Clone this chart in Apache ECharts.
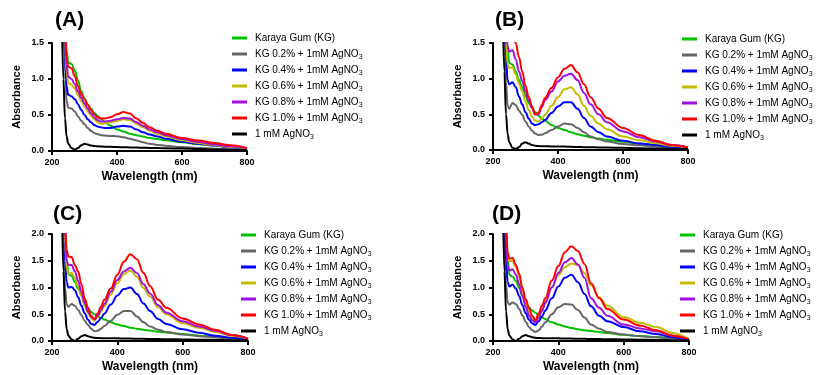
<!DOCTYPE html>
<html>
<head>
<meta charset="utf-8">
<script src="https://cdn.jsdelivr.net/npm/echarts@6/dist/echarts.min.js"></script>
<style>
    html, body { margin: 0; padding: 0; background: #fff; }
    #chart { width: 819px; height: 375px; }
</style>
</head>
<body>
<div id="chart"></div>
<script>
// wavelengths (nm) shared by every spectrum
var wavelengths = [230, 235, 240, 245, 250, 260, 270, 280, 290, 300, 310, 320, 330, 340, 350, 360, 380, 400, 420, 440, 460, 480, 500, 525, 550, 600, 650, 700, 750, 800];

var seriesNames = ['Karaya Gum (KG)', 'KG 0.2% + 1mM AgNO3', 'KG 0.4% + 1mM AgNO3', 'KG 0.6% + 1mM AgNO3', 'KG 0.8% + 1mM AgNO3', 'KG 1.0% + 1mM AgNO3', '1 mM AgNO3'];
var panelLabels = ['(A)', '(B)', '(C)', '(D)'];
var xTicks = [200, 400, 600, 800];
var yTicksAB = [0, 0.5, 1.0, 1.5];
var yTicksCD = [0, 0.5, 1.0, 1.5, 2.0];

// panel A
var aGreen = [4, 2.6, 1.8, 1.4, 1.23, 1.21, 1.12, 0.98, 0.83, 0.73, 0.65, 0.59, 0.53, 0.49, 0.45, 0.41, 0.35, 0.3, 0.27, 0.24, 0.22, 0.2, 0.18, 0.165, 0.15, 0.12, 0.095, 0.075, 0.055, 0.035];
var aGray = [3.5, 1.9, 1.1, 0.7, 0.6, 0.59, 0.55, 0.48, 0.42, 0.37, 0.32, 0.28, 0.25, 0.235, 0.22, 0.215, 0.21, 0.205, 0.19, 0.17, 0.145, 0.12, 0.1, 0.085, 0.072, 0.055, 0.042, 0.032, 0.022, 0.012];
var aBlue = [4, 2.1, 1.3, 0.9, 0.78, 0.76, 0.72, 0.65, 0.57, 0.5, 0.44, 0.4, 0.36, 0.34, 0.33, 0.32, 0.32, 0.34, 0.35, 0.34, 0.3, 0.26, 0.23, 0.2, 0.17, 0.13, 0.1, 0.075, 0.05, 0.03];
var aYellow = [4, 2.3, 1.5, 1.1, 0.94, 0.92, 0.87, 0.78, 0.69, 0.62, 0.55, 0.49, 0.44, 0.4, 0.38, 0.38, 0.4, 0.42, 0.44, 0.43, 0.38, 0.33, 0.28, 0.24, 0.2, 0.15, 0.11, 0.08, 0.055, 0.035];
var aPurple = [4, 2.4, 1.6, 1.2, 1.03, 1.0, 0.93, 0.83, 0.74, 0.66, 0.59, 0.52, 0.47, 0.43, 0.41, 0.41, 0.42, 0.44, 0.46, 0.45, 0.4, 0.35, 0.3, 0.26, 0.22, 0.165, 0.125, 0.09, 0.065, 0.04];
var aRed = [4, 2.5, 1.7, 1.3, 1.17, 1.15, 1.04, 0.9, 0.79, 0.72, 0.64, 0.57, 0.51, 0.47, 0.45, 0.45, 0.47, 0.51, 0.54, 0.52, 0.45, 0.39, 0.33, 0.28, 0.24, 0.18, 0.145, 0.11, 0.08, 0.04];
var aBlack = [1.9, 1.0, 0.45, 0.2, 0.1, 0.04, 0.02, 0.04, 0.08, 0.1, 0.09, 0.075, 0.07, 0.065, 0.062, 0.06, 0.058, 0.055, 0.052, 0.05, 0.048, 0.045, 0.043, 0.04, 0.038, 0.033, 0.028, 0.022, 0.017, 0.012];

// panel B
var bGreen = [4, 2.6, 1.8, 1.4, 1.22, 1.2, 1.1, 0.98, 0.88, 0.76, 0.66, 0.59, 0.53, 0.48, 0.44, 0.41, 0.35, 0.31, 0.28, 0.25, 0.22, 0.2, 0.18, 0.16, 0.145, 0.115, 0.09, 0.07, 0.05, 0.03];
var bGray = [3.5, 1.8, 0.95, 0.62, 0.58, 0.66, 0.63, 0.55, 0.49, 0.4, 0.33, 0.27, 0.23, 0.21, 0.215, 0.235, 0.28, 0.33, 0.37, 0.36, 0.31, 0.25, 0.19, 0.15, 0.12, 0.085, 0.065, 0.05, 0.035, 0.02];
var bBlue = [4, 2.2, 1.3, 0.98, 0.92, 0.95, 0.88, 0.75, 0.64, 0.53, 0.44, 0.37, 0.35, 0.36, 0.39, 0.42, 0.52, 0.61, 0.67, 0.67, 0.58, 0.45, 0.33, 0.25, 0.19, 0.13, 0.09, 0.07, 0.045, 0.025];
var bYellow = [4, 2.4, 1.5, 1.2, 1.15, 1.16, 1.06, 0.93, 0.82, 0.68, 0.56, 0.47, 0.41, 0.4, 0.44, 0.49, 0.62, 0.74, 0.85, 0.88, 0.78, 0.62, 0.48, 0.37, 0.29, 0.19, 0.135, 0.095, 0.06, 0.035];
var bPurple = [4, 2.6, 1.8, 1.45, 1.38, 1.4, 1.27, 1.1, 0.97, 0.82, 0.69, 0.59, 0.5, 0.5, 0.6, 0.7, 0.82, 0.96, 1.04, 1.07, 0.98, 0.8, 0.64, 0.5, 0.39, 0.26, 0.18, 0.12, 0.07, 0.04];
var bRed = [4, 3, 2.2, 1.8, 1.62, 1.6, 1.5, 1.3, 1.1, 0.9, 0.74, 0.61, 0.5, 0.52, 0.63, 0.73, 0.87, 1.02, 1.14, 1.19, 1.09, 0.92, 0.74, 0.58, 0.45, 0.31, 0.21, 0.13, 0.07, 0.035];
var bBlack = [1.9, 1.1, 0.5, 0.22, 0.11, 0.03, 0.015, 0.04, 0.09, 0.11, 0.09, 0.07, 0.06, 0.055, 0.053, 0.052, 0.05, 0.05, 0.048, 0.045, 0.042, 0.04, 0.038, 0.036, 0.034, 0.03, 0.025, 0.02, 0.015, 0.01];

// panel C
var cGreen = [4, 2.8, 2.0, 1.5, 1.25, 1.22, 1.1, 0.98, 0.86, 0.73, 0.61, 0.54, 0.5, 0.46, 0.43, 0.4, 0.35, 0.31, 0.28, 0.25, 0.23, 0.21, 0.195, 0.175, 0.16, 0.13, 0.1, 0.075, 0.055, 0.035];
var cGray = [4, 2.0, 1.0, 0.68, 0.64, 0.69, 0.66, 0.58, 0.48, 0.38, 0.3, 0.23, 0.18, 0.19, 0.23, 0.28, 0.38, 0.49, 0.56, 0.56, 0.46, 0.35, 0.27, 0.21, 0.17, 0.12, 0.09, 0.065, 0.04, 0.02];
var cBlue = [4, 2.4, 1.5, 1.1, 1.0, 1.01, 0.95, 0.82, 0.66, 0.52, 0.4, 0.32, 0.3, 0.36, 0.43, 0.51, 0.68, 0.85, 0.97, 1.0, 0.88, 0.7, 0.56, 0.41, 0.32, 0.22, 0.155, 0.1, 0.06, 0.025];
var cYellow = [4, 2.6, 1.8, 1.35, 1.26, 1.27, 1.17, 1.02, 0.84, 0.66, 0.52, 0.43, 0.38, 0.45, 0.55, 0.65, 0.87, 1.08, 1.25, 1.32, 1.2, 0.99, 0.83, 0.63, 0.5, 0.33, 0.25, 0.17, 0.1, 0.04];
var cPurple = [4, 2.8, 1.95, 1.5, 1.42, 1.42, 1.3, 1.12, 0.91, 0.71, 0.55, 0.45, 0.4, 0.47, 0.58, 0.69, 0.92, 1.14, 1.3, 1.37, 1.27, 1.06, 0.89, 0.67, 0.53, 0.37, 0.27, 0.19, 0.11, 0.045];
var cRed = [4, 3.0, 2.2, 1.7, 1.58, 1.57, 1.42, 1.3, 1.06, 0.8, 0.62, 0.47, 0.41, 0.52, 0.64, 0.77, 0.98, 1.24, 1.48, 1.62, 1.53, 1.27, 1.03, 0.77, 0.62, 0.42, 0.31, 0.21, 0.11, 0.04];
var cBlack = [2.6, 1.3, 0.55, 0.22, 0.1, 0.03, 0.0, 0.04, 0.09, 0.11, 0.09, 0.07, 0.06, 0.055, 0.053, 0.052, 0.05, 0.05, 0.048, 0.045, 0.042, 0.04, 0.038, 0.036, 0.034, 0.03, 0.025, 0.02, 0.015, 0.01];

// panel D
var dGreen = [4, 2.8, 2.0, 1.5, 1.24, 1.2, 1.12, 0.99, 0.84, 0.72, 0.63, 0.57, 0.53, 0.48, 0.44, 0.41, 0.35, 0.31, 0.27, 0.245, 0.22, 0.2, 0.185, 0.17, 0.15, 0.115, 0.095, 0.075, 0.055, 0.04];
var dGray = [4, 2.0, 1.05, 0.72, 0.68, 0.72, 0.69, 0.6, 0.48, 0.36, 0.26, 0.2, 0.17, 0.2, 0.27, 0.35, 0.5, 0.63, 0.69, 0.68, 0.58, 0.44, 0.31, 0.23, 0.17, 0.12, 0.09, 0.07, 0.045, 0.02];
var dBlue = [4, 2.4, 1.5, 1.1, 1.02, 1.05, 0.98, 0.84, 0.67, 0.52, 0.4, 0.33, 0.3, 0.37, 0.46, 0.57, 0.8, 1.02, 1.18, 1.24, 1.1, 0.88, 0.65, 0.47, 0.37, 0.26, 0.18, 0.13, 0.07, 0.02];
var dYellow = [4, 2.9, 2.1, 1.6, 1.49, 1.5, 1.38, 1.2, 0.95, 0.72, 0.53, 0.43, 0.38, 0.46, 0.6, 0.74, 1.0, 1.23, 1.38, 1.45, 1.42, 1.27, 1.04, 0.82, 0.66, 0.45, 0.34, 0.26, 0.15, 0.03];
var dPurple = [4, 2.7, 1.8, 1.4, 1.32, 1.34, 1.24, 1.06, 0.84, 0.64, 0.48, 0.39, 0.35, 0.43, 0.56, 0.71, 1.0, 1.27, 1.47, 1.55, 1.43, 1.18, 0.8, 0.62, 0.47, 0.31, 0.235, 0.18, 0.1, 0.02];
var dRed = [4, 3.0, 2.2, 1.65, 1.54, 1.55, 1.42, 1.26, 1.0, 0.78, 0.62, 0.47, 0.39, 0.52, 0.66, 0.8, 1.13, 1.4, 1.66, 1.77, 1.68, 1.44, 1.08, 0.8, 0.6, 0.4, 0.29, 0.2, 0.1, 0.03];
var dBlack = [2.6, 1.3, 0.55, 0.22, 0.1, 0.03, 0.0, 0.04, 0.09, 0.11, 0.09, 0.07, 0.06, 0.055, 0.053, 0.052, 0.05, 0.05, 0.048, 0.045, 0.042, 0.04, 0.038, 0.036, 0.034, 0.03, 0.025, 0.02, 0.015, 0.01];

var colors = ['#00c000', '#666666', '#0000ff', '#c4bc00', '#a010e0', '#ff0000', '#000000'];
var panels = [
    [aGreen, aGray, aBlue, aYellow, aPurple, aRed, aBlack],
    [bGreen, bGray, bBlue, bYellow, bPurple, bRed, bBlack],
    [cGreen, cGray, cBlue, cYellow, cPurple, cRed, cBlack],
    [dGreen, dGray, dBlue, dYellow, dPurple, dRed, dBlack]
];

// 每个面板的位置
var grids = [
    { left: 52, top: 43, width: 195, height: 108 },
    { left: 493, top: 43, width: 195, height: 107 },
    { left: 52, top: 234, width: 196, height: 107 },
    { left: 493, top: 234, width: 196, height: 107 }
];
var legendPos = [
    { left: 232, top: 31 },
    { left: 682, top: 32 },
    { left: 241, top: 228 },
    { left: 680, top: 228 }
];
var titlePos = [
    { left: 55, top: 10 },
    { left: 495, top: 10 },
    { left: 53, top: 204 },
    { left: 492, top: 204 }
];

var FONT = '"Liberation Sans", Arial, sans-serif';

var option = {
    animation: false,
    backgroundColor: '#fff',
    textStyle: { fontFamily: FONT },
    title: [],
    legend: [],
    grid: [],
    xAxis: [],
    yAxis: [],
    series: []
};

panels.forEach(function (panel, p) {
    var yTicks = p < 2 ? yTicksAB : yTicksCD;
    option.grid.push(grids[p]);
    option.title.push({
        text: panelLabels[p],
        left: titlePos[p].left,
        top: titlePos[p].top,
        padding: 0,
        textStyle: { fontFamily: FONT, fontSize: 21, fontWeight: 'bold', color: '#000' }
    });
    option.legend.push({
        orient: 'vertical',
        left: legendPos[p].left,
        top: legendPos[p].top,
        padding: 0,
        itemGap: 2,
        itemWidth: 15,
        itemHeight: 3,
        icon: 'rect',
        selectedMode: false,
        data: seriesNames,
        formatter: function (name) {
            return name.replace(/NO3$/, 'NO{s|3}');
        },
        textStyle: {
            fontFamily: FONT,
            fontSize: 10,
            lineHeight: 14,
            color: '#000',
            padding: [0, 0, 0, 3],
            rich: {
                s: { fontFamily: FONT, fontSize: 7, lineHeight: 8, verticalAlign: 'bottom', color: '#000' }
            }
        }
    });
    option.xAxis.push({
        type: 'value',
        gridIndex: p,
        min: xTicks[0],
        max: xTicks[xTicks.length - 1],
        interval: xTicks[1] - xTicks[0],
        name: 'Wavelength (nm)',
        nameLocation: 'middle',
        nameGap: 20,
        nameTextStyle: { fontFamily: FONT, fontSize: 12, fontWeight: 'bold', color: '#000' },
        splitLine: { show: false },
        axisLine: { lineStyle: { color: '#000', width: 2 } },
        axisTick: { length: 4, lineStyle: { color: '#000', width: 2 } },
        axisLabel: { margin: 7, fontSize: 9, fontWeight: 'bold', color: '#000', fontFamily: FONT }
    });
    option.yAxis.push({
        type: 'value',
        gridIndex: p,
        min: 0,
        max: yTicks[yTicks.length - 1],
        interval: 0.5,
        name: 'Absorbance',
        nameLocation: 'middle',
        nameGap: 30,
        nameTextStyle: { fontFamily: FONT, fontSize: 11, fontWeight: 'bold', color: '#000' },
        splitLine: { show: false },
        axisLine: { show: true, lineStyle: { color: '#000', width: 2 } },
        axisTick: { show: true, length: 4, lineStyle: { color: '#000', width: 2 } },
        axisLabel: {
            margin: 8, fontSize: 9, fontWeight: 'bold', color: '#000', fontFamily: FONT,
            formatter: function (v) { return v.toFixed(1); }
        }
    });
    panel.forEach(function (vals, k) {
        option.series.push({
            name: seriesNames[k],
            type: 'line',
            xAxisIndex: p,
            yAxisIndex: p,
            showSymbol: false,
            smooth: 0.4,
            smoothMonotone: 'x',
            clip: true,
            color: colors[k],
            lineStyle: { width: 2, color: colors[k] },
            data: wavelengths.map(function (w, i) { return [w, vals[i]]; })
        });
    });
});

var chart = echarts.init(document.getElementById('chart'));
chart.setOption(option);
</script>
</body>
</html>
